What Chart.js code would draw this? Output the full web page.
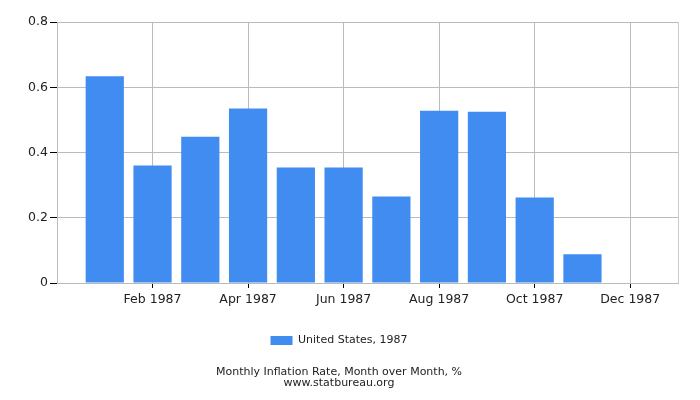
<!DOCTYPE html>
<html>
<head>
<meta charset="utf-8">
<script src="https://cdn.jsdelivr.net/npm/chart.js@4/dist/chart.umd.min.js"></script>
<style>
  html, body { margin: 0; padding: 0; background: #fff; }
  #wrap { width: 700px; height: 400px; }
</style>
</head>
<body>
<div id="wrap"><canvas id="chart" width="700" height="400"></canvas></div>
<script>
// monthly inflation, US 1987 (blank slots pad the axis on both ends)
const months = ['', 'Jan 1987', 'Feb 1987', 'Mar 1987', 'Apr 1987', 'May 1987', 'Jun 1987',
                'Jul 1987', 'Aug 1987', 'Sep 1987', 'Oct 1987', 'Nov 1987', 'Dec 1987', ''];
const inflation = [null, 0.634, 0.360, 0.448, 0.535, 0.354, 0.354,
                   0.265, 0.528, 0.525, 0.262, 0.088, 0.000, null];
const yTicks = [0, 0.2, 0.4, 0.6, 0.8];

const seriesLabel = 'United States, 1987';
const titleLines = ['Monthly Inflation Rate, Month over Month, %', 'www.statbureau.org'];

const BAR = '#418cf0';
const GRID = '#bbbbbb';
const INK = '#222222';

Chart.defaults.font.family = "'DejaVu Sans', Verdana, sans-serif";
Chart.defaults.color = INK;

const shown = i => i >= 2 && i <= 12 && i % 2 === 0;

new Chart(document.getElementById('chart'), {
  type: 'bar',
  data: {
    labels: months,
    datasets: [{
      label: seriesLabel,
      data: inflation,
      backgroundColor: BAR,
      borderWidth: 0,
      inflateAmount: 0,
      barPercentage: 0.8,
      categoryPercentage: 1.0,
    }],
  },
  options: {
    responsive: false,
    animation: false,
    layout: { padding: { top: 22, right: 22, left: 0, bottom: 11 } },
    plugins: {
      legend: {
        position: 'bottom',
        labels: {
          boxWidth: 22,
          boxHeight: 9,
          padding: 10,
          font: { size: 11 },
          color: INK,
        },
      },
      title: {
        display: true,
        position: 'bottom',
        text: titleLines,
        font: { size: 11, weight: 'normal', lineHeight: 1.0 },
        color: INK,
        padding: { top: 11, bottom: 0 },
      },
      tooltip: { enabled: false },
    },
    scales: {
      x: {
        offset: false,
        grid: {
          offset: false,
          color: ctx => ctx.index === 13 ? '#cccccc' : (shown(ctx.index) ? GRID : 'rgba(0,0,0,0)'),
          tickColor: ctx => shown(ctx.index) ? '#000' : 'rgba(0,0,0,0)',
          tickLength: 5,
          lineWidth: 1,
        },
        border: { color: GRID },
        ticks: {
          autoSkip: false,
          maxRotation: 0,
          padding: 4,
          font: { size: 12.5 },
          color: INK,
          callback: (v, i) => shown(i) ? months[i] : '',
        },
        afterFit: s => { s.height = 42; },
      },
      y: {
        min: 0,
        max: 0.8,
        afterBuildTicks: s => { s.ticks = yTicks.map(v => ({ value: v })); },
        grid: { color: GRID, tickColor: '#000', tickLength: 7 },
        border: { color: GRID },
        ticks: {
          padding: 2,
          font: { size: 12.5 },
          color: INK,
          callback: v => v === 0 ? '0' : v.toFixed(1),
        },
        afterFit: s => { s.width = 57; },
      },
    },
  },
});
</script>
</body>
</html>
